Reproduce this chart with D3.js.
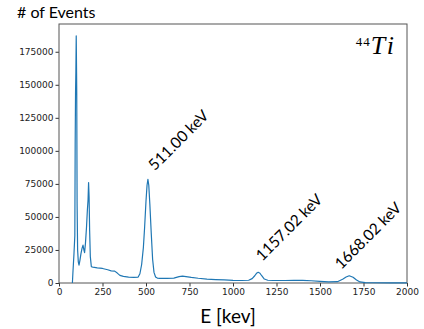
<!DOCTYPE html>
<html>
<head>
<meta charset="utf-8">
<script src="https://cdn.jsdelivr.net/npm/d3@7"></script>
<style>
  body { margin: 0; background: #fff; }
  svg { display: block; }
</style>
</head>
<body>
<svg id="chart" width="424" height="329"></svg>
<script>
// spectrum (keV, counts)
var energy = [77, 80, 86, 91, 93, 95, 97, 99, 101, 102, 104, 107, 111, 115, 120, 126, 132, 138, 143, 147,
  152, 158, 163, 167, 170, 173, 176, 180, 186, 195, 220, 250, 280, 300, 320, 335, 350, 370, 400, 430,
  455, 465, 475, 485, 492, 500, 506, 511, 516, 522, 530, 538, 546, 555, 565, 580, 620, 660, 690, 710,
  730, 760, 800, 850, 900, 950, 1000, 1050, 1090, 1110, 1125, 1135, 1145, 1155, 1165, 1180, 1200, 1230,
  1300, 1350, 1400, 1450, 1500, 1550, 1600, 1630, 1650, 1668, 1690, 1710, 1730, 1760, 1800, 1900, 2000];
var counts = [0, 8000, 22000, 36000, 105000, 143000, 160000, 187000, 159000, 143000, 60000, 25000, 16000, 13500, 17000, 22000, 26000, 28700, 25000, 23000,
  30000, 42000, 55000, 63000, 76000, 65000, 40000, 20000, 12300, 12000, 11500, 11000, 10000, 9200, 9000, 7500, 5800, 5000, 4500, 4200,
  4500, 7000, 14000, 27000, 42000, 62000, 74000, 78500, 74000, 60000, 38000, 18000, 8000, 4500, 3700, 3500, 3500, 3700, 4800, 5200,
  4800, 4200, 3600, 3000, 2600, 2300, 2000, 1900, 2100, 3300, 5500, 7300, 8100, 7400, 5500, 3000, 2100, 1900,
  1900, 2100, 2000, 1700, 1200, 800, 1000, 2800, 4500, 5500, 4300, 2200, 800, 300, 200, 150, 100];

var xTicks = [0, 250, 500, 750, 1000, 1250, 1500, 1750, 2000];
var yTicks = [0, 25000, 50000, 75000, 100000, 125000, 150000, 175000];

// peak annotations
var peakLabels = ["511.00 keV", "1157.02 keV", "1668.02 keV"];
var peakLabelE = [551, 1168, 1622];
var peakLabelY = [84500, 16100, 9800];

var margin = {top: 24, right: 17, bottom: 46, left: 59};
var svg = d3.select("#chart");
var width = +svg.attr("width") - margin.left - margin.right;
var height = +svg.attr("height") - margin.top - margin.bottom;

var x = d3.scaleLinear().domain([0, 2000]).range([0, width]);
var y = d3.scaleLinear().domain([0, 196000]).range([height, 0]);

var g = svg.append("g").attr("transform", "translate(" + margin.left + "," + margin.top + ")");

// axes
var xAxis = g.append("g")
  .attr("transform", "translate(0," + height + ")")
  .call(d3.axisBottom(x).tickValues(xTicks).tickSize(3.5).tickPadding(2).tickFormat(d3.format("d")));
var yAxis = g.append("g")
  .call(d3.axisLeft(y).tickValues(yTicks).tickSize(3.5).tickPadding(2).tickFormat(d3.format("d")));

[xAxis, yAxis].forEach(function(a) {
  a.select(".domain").remove();
  a.selectAll("text").attr("font-family", "DejaVu Sans").attr("font-size", 9).attr("fill", "#222");
  a.selectAll("line").attr("stroke", "#333");
});

// frame
g.append("rect")
  .attr("width", width).attr("height", height)
  .attr("fill", "none").attr("stroke", "#555").attr("stroke-width", 1);

// spectrum
var line = d3.line()
  .x(function(d, i) { return x(energy[i]); })
  .y(function(d) { return y(d); });

g.append("path")
  .datum(counts)
  .attr("d", line)
  .attr("fill", "none")
  .attr("stroke", "#1f77b4")
  .attr("stroke-width", 1.2)
  .attr("stroke-linejoin", "round");

// peak labels
g.selectAll(".peak")
  .data(peakLabels)
  .enter().append("text")
  .attr("class", "peak")
  .attr("transform", function(d, i) {
    return "translate(" + x(peakLabelE[i]) + "," + y(peakLabelY[i]) + ") rotate(-45)";
  })
  .attr("font-family", "Lato")
  .attr("font-size", 15.5)
  .attr("fill", "#000")
  .text(function(d) { return d; });

// isotope label
var iso = g.append("text")
  .attr("x", width - 10)
  .attr("y", 30)
  .attr("text-anchor", "end")
  .attr("font-family", "Liberation Serif")
  .attr("fill", "#000");
iso.append("tspan").attr("font-size", 13).attr("dy", -8).attr("letter-spacing", 1).text("44");
iso.append("tspan").attr("font-size", 26).attr("font-style", "italic").attr("dy", 8)
  .attr("letter-spacing", 3).text("Ti");

// axis titles
svg.append("text")
  .attr("x", 17).attr("y", 18)
  .attr("font-family", "Lato").attr("font-size", 16)
  .attr("fill", "#000")
  .text("# of Events");

svg.append("text")
  .attr("x", margin.left + width / 2 - 5).attr("y", 323)
  .attr("text-anchor", "middle")
  .attr("font-family", "Lato").attr("font-size", 19)
  .attr("fill", "#000")
  .text("E [kev]");
</script>
</body>
</html>
